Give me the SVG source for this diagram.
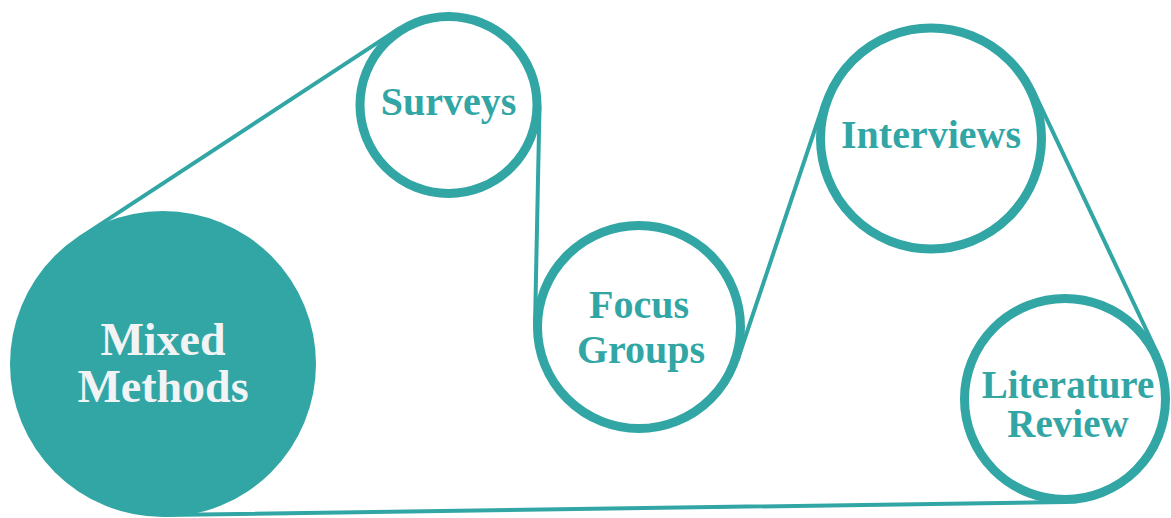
<svg xmlns="http://www.w3.org/2000/svg" width="1171" height="518" viewBox="0 0 1171 518">
  <style>
    .belt { stroke: #32a6a5; stroke-width: 4; fill: none; stroke-linecap: round; }
    .ring { stroke: #32a6a5; stroke-width: 9; fill: #ffffff; }
    .hub { fill: #32a6a5; }
    .lbl { font-family: "Liberation Serif", "Times New Roman", serif; font-weight: bold; font-size: 40px; fill: #32a6a5; text-anchor: middle; }
    .hublbl { font-family: "Liberation Serif", "Times New Roman", serif; font-weight: bold; font-size: 46px; fill: #f1f3f4; text-anchor: middle; }
  </style>
  <rect width="1171" height="518" fill="#ffffff"/>
  <g id="connectors">
    <line class="belt" x1="80.2" y1="237.7" x2="398.6" y2="28.9"/>
    <line class="belt" x1="539.5" y1="106.9" x2="535.0" y2="324.9"/>
    <line class="belt" x1="737.6" y1="360.0" x2="823.9" y2="102.6"/>
    <line class="belt" x1="1033.2" y1="90.3" x2="1158.2" y2="355.0"/>
    <line class="belt" x1="1066.5" y1="502.0" x2="165.2" y2="515.0"/>
  </g>
  <g id="mixed-methods">
    <circle class="hub" cx="163" cy="364" r="153"/>
    <text class="hublbl" x="163" y="355">Mixed</text>
    <text class="hublbl" x="163" y="402">Methods</text>
  </g>
  <g id="surveys">
    <circle class="ring" cx="448.5" cy="105" r="88.5"/>
    <text class="lbl" x="448.5" y="115">Surveys</text>
  </g>
  <g id="focus-groups">
    <circle class="ring" cx="639" cy="327" r="101.5"/>
    <text class="lbl" x="639" y="318">Focus</text>
    <text class="lbl" x="641" y="363">Groups</text>
  </g>
  <g id="interviews">
    <circle class="ring" cx="931" cy="138.5" r="110.5"/>
    <text class="lbl" x="931" y="148">Interviews</text>
  </g>
  <g id="literature-review">
    <circle class="ring" cx="1065" cy="399" r="100.5"/>
    <text class="lbl" x="1068" y="398" style="font-size:39px">Literature</text>
    <text class="lbl" x="1068" y="437" style="font-size:39px">Review</text>
  </g>
</svg>
